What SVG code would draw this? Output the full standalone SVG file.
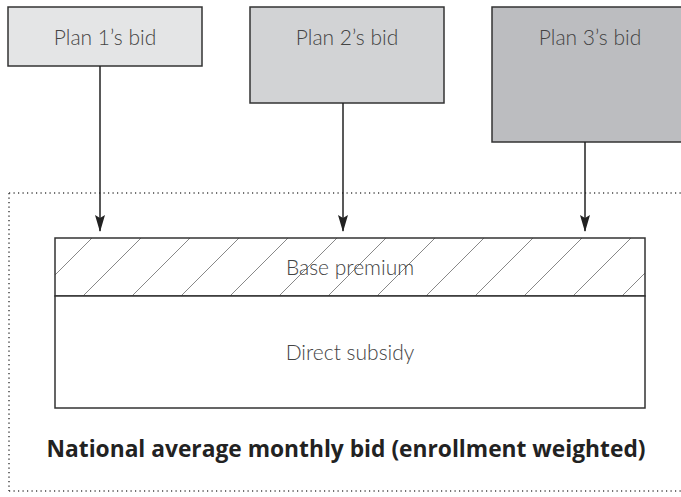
<svg xmlns="http://www.w3.org/2000/svg" width="681" height="497" viewBox="0 0 681 497">
<style>
.box{stroke:#333;stroke-width:1.5}
.lbl{font-family:"Lato","Open Sans","Liberation Sans",sans-serif;font-weight:300;font-size:21px;fill:#444;text-anchor:middle}
.conn{stroke:#222;stroke-width:1.5;fill:none}
.dot{stroke:#444;stroke-width:1.5;stroke-dasharray:1.2 3.3;fill:none}
.title{font-family:"Open Sans","Liberation Sans",sans-serif;font-weight:700;font-size:22.5px;fill:#222;text-anchor:middle}
</style>
<defs>
<marker id="ah" markerWidth="17" markerHeight="10" refX="16" refY="5" orient="auto" markerUnits="userSpaceOnUse" viewBox="0 0 17 10">
<path d="M0,0 L17,5 L0,10 L3,5 Z" fill="#222"/>
</marker>
<clipPath id="bclip"><rect x="55" y="238" width="590" height="58"/></clipPath>
</defs>
<rect width="681" height="497" fill="#fff"/>
<g id="frame">
<path class="dot" d="M9,193 H681 M9,193 V491 M9,491 H681"/>
</g>
<g id="plan1">
<rect class="box" x="8" y="7" width="194" height="59" fill="#e4e5e6"/>
<text class="lbl" x="105" y="45">Plan 1’s bid</text>
</g>
<g id="plan2">
<rect class="box" x="250" y="7" width="194" height="96" fill="#d2d3d5"/>
<text class="lbl" x="347" y="45">Plan 2’s bid</text>
</g>
<g id="plan3">
<rect class="box" x="492" y="7" width="200" height="135" fill="#bcbdc0"/>
<text class="lbl" x="590" y="45">Plan 3’s bid</text>
</g>
<g id="base">
<rect x="55" y="238" width="590" height="58" fill="#fff"/>
<g clip-path="url(#bclip)" stroke="#888" stroke-width="1">
<path d="M34,296 L92,238 M83,296 L141,238 M132,296 L190,238 M181,296 L239,238 M230,296 L288,238 M279,296 L337,238 M328,296 L386,238 M377,296 L435,238 M426,296 L484,238 M475,296 L533,238 M524,296 L582,238 M573,296 L631,238 M622,296 L680,238"/>
</g>
<rect class="box" x="55" y="238" width="590" height="58" fill="none"/>
<text class="lbl" x="350" y="275">Base premium</text>
</g>
<g id="subsidy">
<rect class="box" x="55" y="296" width="590" height="112" fill="#fff"/>
<text class="lbl" x="350" y="360">Direct subsidy</text>
</g>
<g id="connectors">
<line class="conn" x1="100" y1="66" x2="100" y2="231" marker-end="url(#ah)"/>
<line class="conn" x1="343" y1="103" x2="343" y2="231" marker-end="url(#ah)"/>
<line class="conn" x1="585" y1="142" x2="585" y2="231" marker-end="url(#ah)"/>
</g>
<text class="title" x="346" y="457" textLength="599" lengthAdjust="spacingAndGlyphs">National average monthly bid (enrollment weighted)</text>
</svg>
